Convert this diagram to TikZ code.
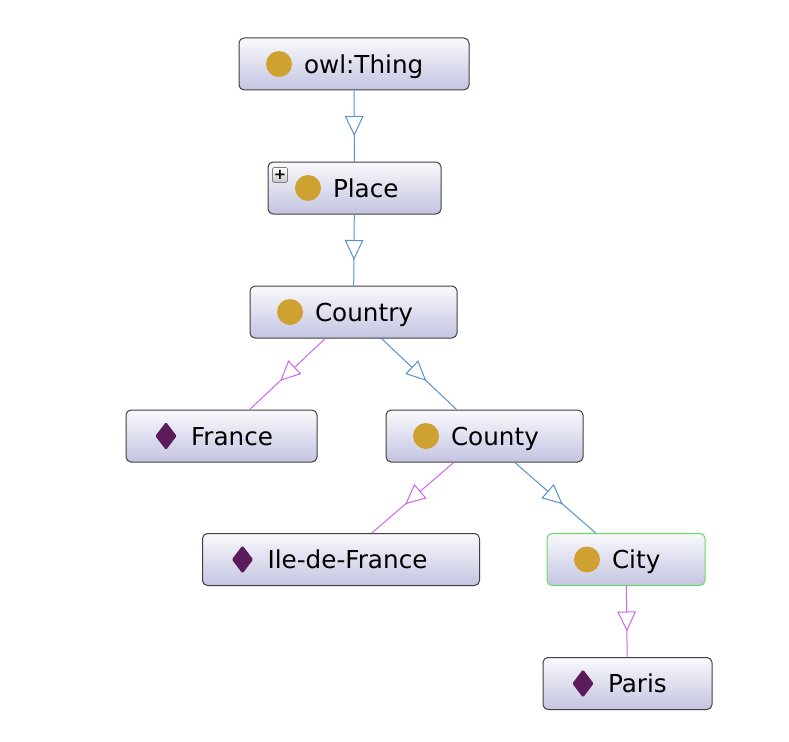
\documentclass[tikz,border=0pt]{standalone}
\usepackage{fontspec}
\newfontfamily\boxfont{DejaVu Sans}
\usetikzlibrary{arrows.meta,decorations.markings}
\definecolor{classgold}{RGB}{207,161,48}
\definecolor{indpurple}{RGB}{92,28,92}
\definecolor{subblue}{RGB}{84,146,204}
\definecolor{instviolet}{RGB}{204,102,236}
\definecolor{boxtop}{RGB}{249,249,252}
\definecolor{boxbottom}{RGB}{196,196,226}
\definecolor{boxline}{RGB}{64,64,64}
\definecolor{selgreen}{RGB}{96,222,96}
\begin{document}
\begin{tikzpicture}[x=0.75pt, y=-0.75pt,
    box/.style={draw=boxline, line width=0.75pt, rounded corners=3.75pt, top color=boxtop, bottom color=boxbottom,
        minimum height=39pt, inner xsep=0pt, inner ysep=0pt, text width=#1*0.75pt, align=left,
        text height=16pt, text depth=1.8pt,
        font=\boxfont\fontsize{18.5}{22}\selectfont, execute at begin node={\hspace*{48.75pt}}},
    cls/.style={box=#1, path picture={\fill[classgold] ([xshift=30pt]path picture bounding box.west) circle (9.75pt);}},
    ind/.style={box=#1, path picture={\fill[indpurple, rounded corners=1pt] ([xshift=30pt]path picture bounding box.west)
        ++(0,10.5pt) -- ++(8pt,-10.5pt) -- ++(-8pt,-10.5pt) -- ++(-8pt,10.5pt) -- cycle;}},
    plusbox/.style={draw=gray, line width=0.5pt, rounded corners=1pt, top color=white, bottom color=gray!45,
        minimum size=11.25pt, inner sep=0pt, font=\boxfont\bfseries\fontsize{11}{11}\selectfont},
    link/.style={draw=#1, line width=0.75pt, postaction={decorate}, decoration={markings,
        mark=at position 0.5 with {\arrow[xshift=7.5pt]{Triangle[length=15pt, width=14pt, fill=white, line width=0.75pt]}}}},
    isa/.style={link=subblue},
    inst/.style={link=instviolet}]
            \useasboundingbox (0,0) rectangle (789,742);
            \node[cls=230] (thing) at (354,64) {owl:Thing};
            \node[cls=173] (place) at (354.5,188) {Place};
            \node[plusbox] (placeplus) at ([xshift=9.4pt,yshift=-10.1pt]place.north west) {+};
            \node[cls=207] (country) at (353.5,312) {Country};
            \node[ind=191] (france) at (221.5,436) {France};
            \node[cls=197] (county) at (484.5,436) {County};
            \node[ind=277] (ile) at (341,559.5) {Ile-de-France};
            \node[cls=158, draw=selgreen] (city) at (626,559.5) {City};
            \node[ind=169] (paris) at (627.5,683.5) {Paris};
            \draw[isa] (thing) -- (place);
            \draw[isa] (place) -- (country);
            \draw[inst] (country) -- (france);
            \draw[isa] (country) -- (county);
            \draw[inst] (county) -- (ile);
            \draw[isa] (county) -- (city);
            \draw[inst] (city) -- (paris);
\end{tikzpicture}
\end{document}
